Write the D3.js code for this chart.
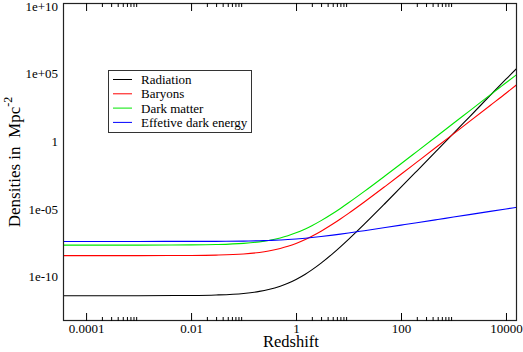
<!DOCTYPE html>
<html>
<head>
<meta charset="utf-8">
<script src="https://cdn.jsdelivr.net/npm/d3@7"></script>
<style>
  body { margin: 0; background: #fff; }
</style>
</head>
<body>
<div id="graph"></div>
<script>
//************ data ************//
var redshift   = [3.6e-5, 1e-4, 1e-3, 0.01, 0.03, 0.1, 0.2, 0.3, 0.5, 0.7, 1, 1.5, 2, 3, 5, 7, 10, 20, 50, 100, 200, 500, 1000, 2000, 5000, 10000, 16200];
var radiation  = [2.95e-12, 2.95e-12, 2.96e-12, 3.07e-12, 3.32e-12, 4.32e-12, 6.12e-12, 8.43e-12, 1.49e-11, 2.46e-11, 4.72e-11, 1.15e-10, 2.39e-10, 7.55e-10, 3.82e-9, 1.21e-8, 4.32e-8, 5.74e-7, 2.00e-5, 3.07e-4, 4.82e-3, 0.186, 2.96, 47.3, 1846, 2.95e4, 1.9e5];
var baryons    = [2.69e-9, 2.69e-9, 2.70e-9, 2.77e-9, 2.94e-9, 3.58e-9, 4.65e-9, 5.91e-9, 9.08e-9, 1.32e-8, 2.15e-8, 4.21e-8, 7.27e-8, 1.72e-7, 5.81e-7, 1.38e-6, 3.58e-6, 2.49e-5, 3.57e-4, 2.77e-3, 0.0219, 0.338, 2.70, 21.6, 337, 2.69e3, 1.2e4];
var darkMatter = [1.62e-8, 1.62e-8, 1.62e-8, 1.67e-8, 1.77e-8, 2.16e-8, 2.80e-8, 3.56e-8, 5.47e-8, 7.96e-8, 1.30e-7, 2.53e-7, 4.38e-7, 1.04e-6, 3.50e-6, 8.31e-6, 2.16e-5, 1.50e-4, 2.15e-3, 0.0167, 0.132, 2.04, 16.3, 130, 2029, 1.62e4, 6.6e4];
var darkEnergy = [3.02e-8, 3.02e-8, 3.02e-8, 3.04e-8, 3.07e-8, 3.20e-8, 3.37e-8, 3.54e-8, 3.85e-8, 4.15e-8, 4.58e-8, 5.23e-8, 5.84e-8, 6.94e-8, 8.85e-8, 1.05e-7, 1.27e-7, 1.88e-7, 3.20e-7, 4.82e-7, 7.28e-7, 1.26e-6, 1.91e-6, 2.89e-6, 5.01e-6, 7.59e-6, 1.01e-5];

var seriesNames  = ["Radiation", "Baryons", "Dark matter", "Effetive dark energy"];
var seriesColors = ["#000000", "#ff0000", "#00e600", "#0000ff"];
var xTickValues  = [1e-4, 1e-2, 1, 100, 10000];
var xTickLabels  = ["0.0001", "0.01", "1", "100", "10000"];
var yTickValues  = [1e10, 1e5, 1, 1e-5, 1e-10];
var yTickLabels  = ["1e+10", "1e+05", "1", "1e-05", "1e-10"];

var serif = '"Liberation Serif", "Times New Roman", serif';

//************ layout ************//
var width = 523, height = 352;
var margin = {top: 3, right: 6, bottom: 31, left: 63};
var plotW = width - margin.left - margin.right,
    plotH = height - margin.top - margin.bottom;

var svg = d3.select('#graph').append('svg')
    .attr('width', width)
    .attr('height', height);

var x = d3.scaleLog().domain([Math.pow(10, -4.44), Math.pow(10, 4.21)]).range([margin.left, margin.left + plotW]);
var y = d3.scaleLog().domain([Math.pow(10, -13.4), Math.pow(10, 10.1)]).range([margin.top + plotH, margin.top]);

svg.append('clipPath').attr('id', 'clip')
  .append('rect')
    .attr('x', margin.left).attr('y', margin.top)
    .attr('width', plotW).attr('height', plotH);

//************ curves ************//
var series = [radiation, baryons, darkMatter, darkEnergy];
var line = d3.line()
    .x(function(d) { return x(d[0]); })
    .y(function(d) { return y(d[1]); })
    .curve(d3.curveMonotoneX);

svg.append('g').attr('clip-path', 'url(#clip)')
  .selectAll('path').data(series)
  .enter().append('path')
    .attr('d', function(s) { return line(redshift.map(function(z, i) { return [z, s[i]]; })); })
    .attr('fill', 'none')
    .attr('stroke', function(d, i) { return seriesColors[i]; })
    .attr('stroke-width', 1.1);

//************ frame + ticks ************//
svg.append('rect')
    .attr('x', margin.left + 0.5).attr('y', margin.top + 0.5)
    .attr('width', plotW - 1).attr('height', plotH - 1)
    .attr('fill', 'none').attr('stroke', '#222').attr('stroke-width', 1.2);

// minor ticks: 2..9 after each labelled decade (grace style)
var minorTicks = [];
xTickValues.forEach(function(v) {
  for (var k = 2; k <= 9; k++) { if (v * k < x.domain()[1]) minorTicks.push(v * k); }
});

var bottomAxis = d3.axisBottom(x).tickValues(xTickValues).tickFormat(function(d, i) { return xTickLabels[i]; })
    .tickSizeInner(-8).tickSizeOuter(0).tickPadding(3);
var gx = svg.append('g').attr('transform', 'translate(0,' + (margin.top + plotH) + ')').call(bottomAxis);
gx.select('.domain').remove();
gx.attr('font-family', serif).attr('font-size', 13);
gx.selectAll('line').attr('stroke', '#000');

var minorBottom = d3.axisBottom(x).tickValues(minorTicks).tickFormat('').tickSizeInner(-4).tickSizeOuter(0);
var gxm = svg.append('g').attr('transform', 'translate(0,' + (margin.top + plotH) + ')').call(minorBottom);
gxm.select('.domain').remove();

var topAxis = d3.axisTop(x).tickValues(xTickValues).tickFormat('').tickSizeInner(-8).tickSizeOuter(0);
var gt = svg.append('g').attr('transform', 'translate(0,' + margin.top + ')').call(topAxis);
gt.select('.domain').remove();
var minorTop = d3.axisTop(x).tickValues(minorTicks).tickFormat('').tickSizeInner(-4).tickSizeOuter(0);
var gtm = svg.append('g').attr('transform', 'translate(0,' + margin.top + ')').call(minorTop);
gtm.select('.domain').remove();

// y axis: labels only
var leftAxis = d3.axisLeft(y).tickValues(yTickValues).tickFormat(function(d, i) { return yTickLabels[i]; })
    .tickSize(0).tickPadding(5);
var gy = svg.append('g').attr('transform', 'translate(' + margin.left + ',0)').call(leftAxis);
gy.select('.domain').remove();
gy.attr('font-family', serif).attr('font-size', 13);
gy.selectAll('text').attr('dy', '0.45em');

//************ titles ************//
svg.append('text')
    .attr('x', 291).attr('y', 347)
    .attr('text-anchor', 'middle').attr('font-size', 16.5).attr('font-family', serif)
    .text('Redshift');

var yt = svg.append('text')
    .attr('transform', 'translate(20,' + (margin.top + plotH / 2) + ') rotate(-90)')
    .attr('text-anchor', 'middle').attr('font-size', 17).attr('font-family', serif);
yt.append('tspan').text('Densities in\u00a0\u00a0Mpc');
yt.append('tspan').attr('dy', -8).attr('font-size', 12).text('-2');

//************ legend ************//
var legend = svg.append('g').attr('font-family', serif).attr('font-size', 13);
legend.append('rect')
    .attr('x', 108.5).attr('y', 70.5).attr('width', 143).attr('height', 62)
    .attr('fill', '#fff').attr('stroke', '#333').attr('stroke-width', 1);

var rows = legend.selectAll('g.row').data(seriesNames)
  .enter().append('g').attr('class', 'row')
    .attr('transform', function(d, i) { return 'translate(0,' + (79.5 + i * 14.3) + ')'; });
rows.append('line')
    .attr('x1', 113).attr('x2', 132)
    .attr('stroke', function(d, i) { return seriesColors[i]; });
rows.append('text')
    .attr('x', 141).attr('dy', '0.35em')
    .text(function(d) { return d; });
</script>
</body>
</html>
